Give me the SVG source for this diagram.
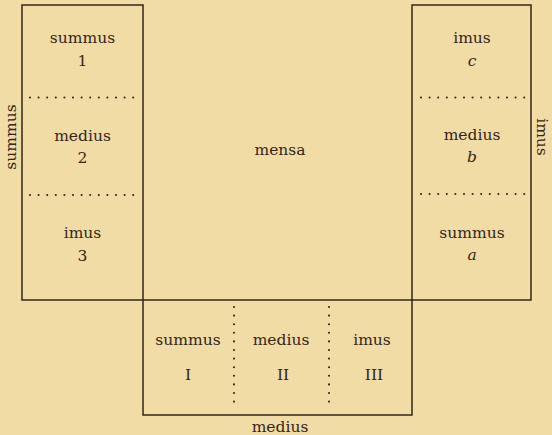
<svg xmlns="http://www.w3.org/2000/svg" width="552" height="435" viewBox="0 0 552 435">
<style>
.box{fill:none;stroke:#33261a;stroke-width:1.5}
.dot{fill:none;stroke:#33261a;stroke-width:2.1;stroke-linecap:round;stroke-dasharray:0 8.6}
text{font-family:"DejaVu Serif","Liberation Serif",serif;font-size:15.5px;fill:#33261a;text-anchor:middle}
.it{font-style:italic}
</style>
<rect width="552" height="435" fill="#f2dca6"/>
<g id="lectus-summus">
<rect class="box" x="22" y="5" width="121" height="295"/>
<line class="dot" x1="30" y1="97.5" x2="134" y2="97.5"/>
<line class="dot" x1="30" y1="195" x2="134" y2="195"/>
<text x="82.5" y="43">summus</text><text x="82.5" y="66">1</text>
<text x="82.5" y="141">medius</text><text x="82.5" y="163">2</text>
<text x="82.5" y="238">imus</text><text x="82.5" y="261">3</text>
<text transform="translate(16 137) rotate(-90)">summus</text>
</g>
<g id="lectus-imus">
<rect class="box" x="412" y="5" width="119" height="295"/>
<line class="dot" x1="421" y1="97.5" x2="526" y2="97.5"/>
<line class="dot" x1="421" y1="194" x2="526" y2="194"/>
<text x="472" y="43">imus</text><text class="it" x="472" y="66">c</text>
<text x="472" y="140">medius</text><text class="it" x="472" y="162">b</text>
<text x="472" y="238">summus</text><text class="it" x="472" y="260">a</text>
<text transform="translate(537 137) rotate(90)">imus</text>
</g>
<g id="mensa">
<text x="280" y="155">mensa</text>
</g>
<g id="lectus-medius">
<rect class="box" x="143" y="300" width="269" height="115"/>
<line class="dot" x1="234" y1="307" x2="234" y2="410"/>
<line class="dot" x1="329" y1="307" x2="329" y2="410"/>
<text x="188" y="345">summus</text><text x="188" y="380">I</text>
<text x="281" y="345">medius</text><text x="283" y="380">II</text>
<text x="372" y="345">imus</text><text x="374" y="380">III</text>
<text x="280" y="432">medius</text>
</g>
<g id="connectors"></g>
</svg>
